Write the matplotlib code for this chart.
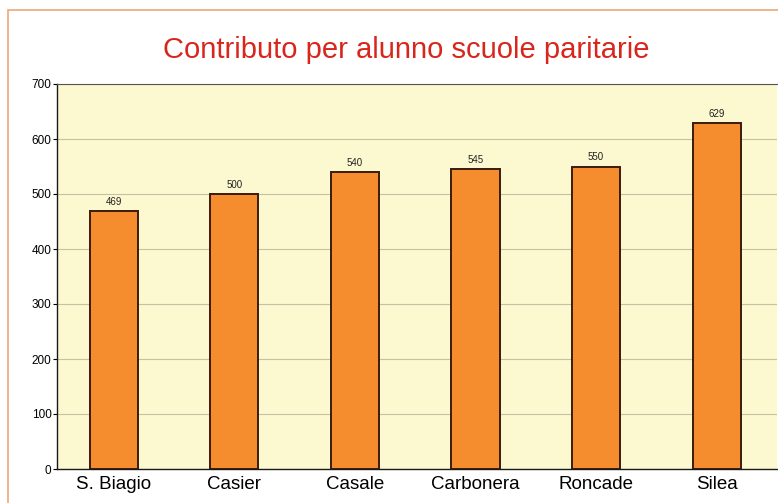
import matplotlib
matplotlib.use("Agg")
import matplotlib.pyplot as plt
from matplotlib.patches import Rectangle

plt.rcParams["font.family"] = ["Liberation Sans", "DejaVu Sans"]

ORANGE, EDGE, PANEL, RED = "#F58D2E", "#3B1A0C", "#FCF8CF", "#D8261C"

comuni = ["S. Biagio", "Casier", "Casale", "Carbonera", "Roncade", "Silea"]
contributo = [469, 500, 540, 545, 550, 629]
yticks = [0, 100, 200, 300, 400, 500, 600, 700]

fig = plt.figure(figsize=(7.78, 5.03), dpi=100, facecolor="white")
# thin orange frame around the page
fig.patches.append(Rectangle((8 / 778, -0.01), 1.0, 1.01 - 10 / 503,
                             transform=fig.transFigure, fill=False,
                             edgecolor="#EBA77A", lw=1.2))
ax = fig.add_axes([57 / 778, 1 - 469 / 503, 720 / 778, 385 / 503])
ax.set_facecolor(PANEL)

x = range(len(comuni))
bars = ax.bar(x, contributo, width=0.4, color=ORANGE, edgecolor=EDGE, lw=1.4, zorder=3)
for b, v in zip(bars, contributo):
    ax.text(b.get_x() + b.get_width() / 2, v + 8, str(v), ha="center", va="bottom",
            fontsize=7, color="#222222")

ax.set_xlim(-0.47, 5.5)
ax.set_ylim(0, 700)
ax.set_yticks(yticks)
ax.set_yticklabels([str(t) for t in yticks], fontsize=8.5)
ax.set_xticks(list(x))
ax.set_xticklabels(comuni, fontsize=13.5)
ax.tick_params(axis="x", length=0, pad=5)
ax.tick_params(axis="y", length=3, pad=1, width=0.8)
ax.grid(True, axis="y", color="#C4C2A4", lw=0.8, zorder=0)
for s in ["left", "bottom"]:
    ax.spines[s].set_color("#1a1a1a")
    ax.spines[s].set_linewidth(1.0)
ax.spines["top"].set_color("#555555")
ax.spines["top"].set_linestyle((0, (2, 1)))
ax.spines["right"].set_visible(False)

fig.text(406 / 778, 1 - 50 / 503, "Contributo per alunno scuole paritarie",
         ha="center", va="center", fontsize=21, color=RED)

fig.savefig("out.png", dpi=100, facecolor="white")
